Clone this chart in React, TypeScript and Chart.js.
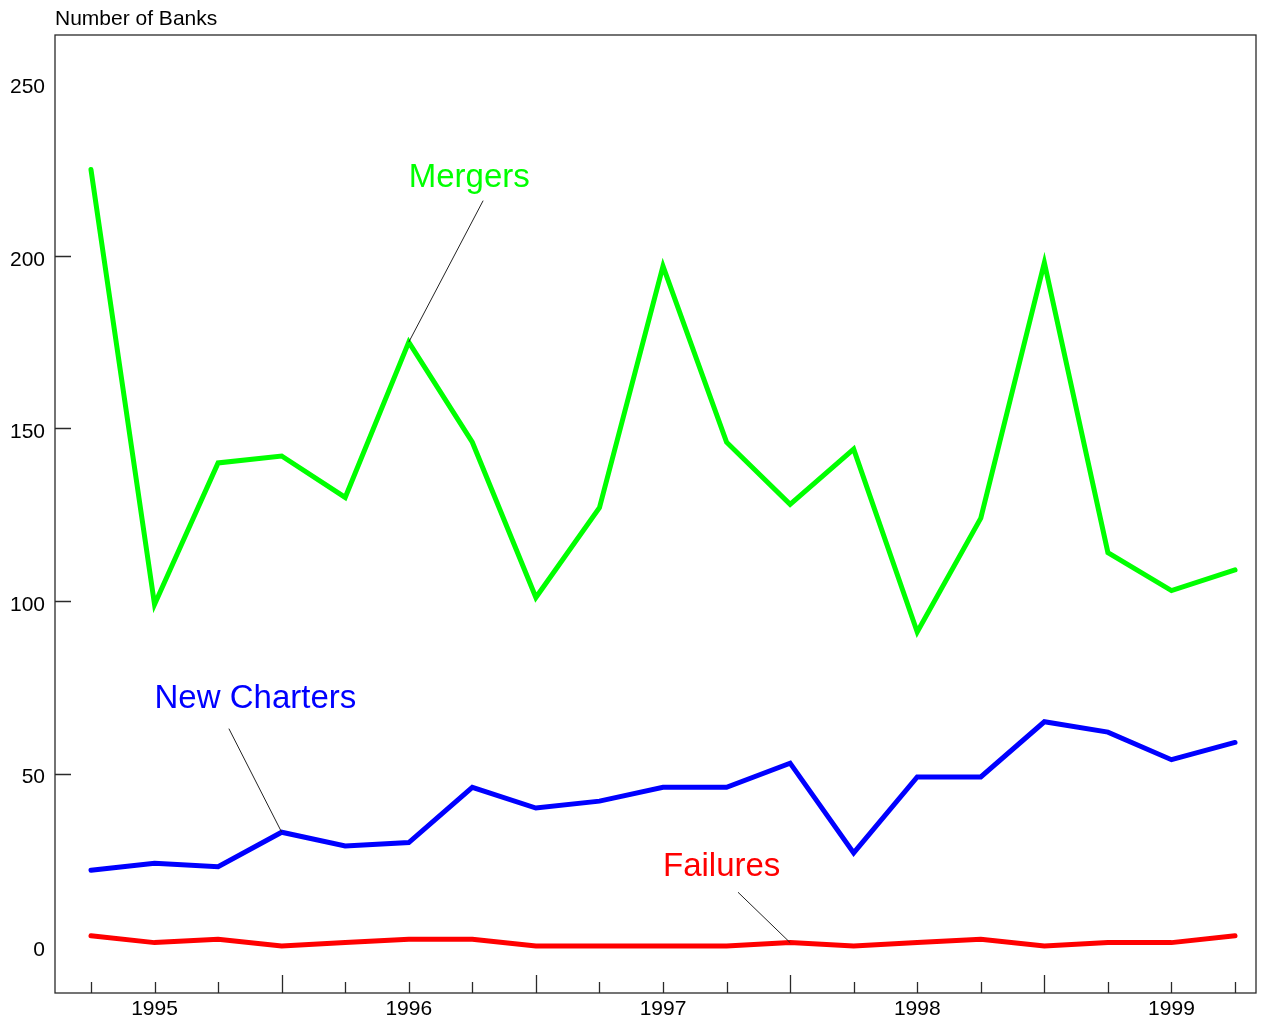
import React, { useEffect, useRef } from "react";
import { Chart, registerables } from "chart.js";

Chart.register(...registerables);

// Quarterly observations, index 0 = 1994 Q4 ... index 18 = 1999 Q2
const quarterIndex = [0, 1, 2, 3, 4, 5, 6, 7, 8, 9, 10, 11, 12, 13, 14, 15, 16, 17, 18];
const mergers = [225, 99, 140, 142, 130, 175, 146, 101, 127, 197, 146, 128, 144, 91, 124, 198, 114, 103, 109];
const newCharters = [22, 24, 23, 33, 29, 30, 46, 40, 42, 46, 46, 53, 27, 49, 49, 65, 62, 54, 59];
const failures = [3, 1, 2, 0, 1, 2, 2, 0, 0, 0, 0, 1, 0, 1, 2, 0, 1, 1, 3];

const yearLabelIndex = [1, 5, 9, 13, 17];
const yearLabels = ["1995", "1996", "1997", "1998", "1999"];
const yearBoundaryIndex = [3, 7, 11, 15];

const yTickValues = [0, 50, 100, 150, 200, 250];
const yInnerTickValues = [50, 100, 150, 200];

const seriesNames = ["Mergers", "New Charters", "Failures"];
const seriesColors = ["#00ff00", "#0000ff", "#ff0000"];

// annotation labels (data coordinates) and leader lines
const annotX = [5, 1, 9];
const annotY = [220, 69, 20.3];
const leaderFromX = [6.17, 2.17, 10.18];
const leaderFromY = [216, 63, 15.6];
const leaderToIndex = [5, 3, 11];

const yTitle = "Number of Banks";
const FONT = "'Liberation Sans', Arial, Helvetica, sans-serif";

export default function App() {
  const ref = useRef<HTMLCanvasElement | null>(null);

  useEffect(() => {
    const canvas = ref.current;
    if (!canvas) return;
    const seriesData = [mergers, newCharters, failures];

    const decor = {
      id: "decor",
      afterDatasetsDraw(chart: any) {
        const ctx = chart.ctx as CanvasRenderingContext2D;
        const xs = chart.scales.x;
        const ys = chart.scales.y;
        const a = chart.chartArea;
        ctx.save();
        // frame
        ctx.strokeStyle = "#2a2a2a";
        ctx.lineWidth = 1.3;
        ctx.strokeRect(a.left, a.top, a.right - a.left, a.bottom - a.top);
        // x ticks (inward)
        ctx.beginPath();
        quarterIndex.forEach((q) => {
          const px = Math.round(xs.getPixelForValue(q)) + 0.5;
          const len = yearBoundaryIndex.includes(q) ? 18 : 11;
          ctx.moveTo(px, a.bottom);
          ctx.lineTo(px, a.bottom - len);
        });
        // y ticks (inward)
        yInnerTickValues.forEach((v) => {
          const py = Math.round(ys.getPixelForValue(v)) + 0.5;
          ctx.moveTo(a.left, py);
          ctx.lineTo(a.left + 16, py);
        });
        ctx.stroke();

        // title
        ctx.fillStyle = "#000";
        ctx.font = `21px ${FONT}`;
        ctx.textAlign = "left";
        ctx.textBaseline = "alphabetic";
        ctx.fillText(yTitle, a.left, 25);

        // leader lines
        ctx.strokeStyle = "#222";
        ctx.lineWidth = 1;
        seriesNames.forEach((_, i) => {
          const x0 = xs.getPixelForValue(leaderFromX[i]);
          const y0 = ys.getPixelForValue(leaderFromY[i]);
          const k = leaderToIndex[i];
          const x1 = xs.getPixelForValue(quarterIndex[k]);
          const y1 = ys.getPixelForValue(seriesData[i][k]);
          ctx.beginPath();
          ctx.moveTo(x0, y0);
          ctx.lineTo(x1, y1);
          ctx.stroke();
        });
        // annotation labels
        ctx.font = `33px ${FONT}`;
        seriesNames.forEach((name, i) => {
          ctx.fillStyle = seriesColors[i];
          ctx.fillText(name, xs.getPixelForValue(annotX[i]), ys.getPixelForValue(annotY[i]));
        });
        ctx.restore();
      },
    };

    const chart = new Chart(canvas, {
      type: "line",
      data: {
        datasets: seriesNames.map((name, i) => ({
          label: name,
          data: quarterIndex.map((q, j) => ({ x: q, y: seriesData[i][j] })),
          borderColor: seriesColors[i],
          backgroundColor: seriesColors[i],
          borderWidth: 5,
          pointRadius: 0,
          tension: 0,
          fill: false,
          borderCapStyle: "round",
          borderJoinStyle: "miter",
        })),
      },
      options: {
        responsive: false,
        animation: false,
        layout: { padding: { top: 35, right: 9, left: 0, bottom: 0 } },
        plugins: { legend: { display: false }, title: { display: false }, tooltip: { enabled: false } },
        scales: {
          x: {
            type: "linear",
            min: -0.566,
            max: 18.33,
            grid: { display: false, drawTicks: false },
            border: { display: false },
            afterBuildTicks: (scale: any) => {
              scale.ticks = yearLabelIndex.map((v) => ({ value: v }));
            },
            afterFit: (scale: any) => {
              scale.height = 28;
            },
            ticks: {
              autoSkip: false,
              maxRotation: 0,
              padding: 4,
              color: "#000",
              font: { family: FONT, size: 21 },
              callback: (v: any) => {
                const k = yearLabelIndex.indexOf(Number(v));
                return k >= 0 ? yearLabels[k] : "";
              },
            },
          },
          y: {
            type: "linear",
            min: -13.6,
            max: 264,
            grid: { display: false, drawTicks: false },
            border: { display: false },
            afterBuildTicks: (scale: any) => {
              scale.ticks = yTickValues.map((v) => ({ value: v }));
            },
            afterFit: (scale: any) => {
              scale.width = 55;
            },
            ticks: {
              padding: 10,
              labelOffset: 4,
              color: "#000",
              font: { family: FONT, size: 21 },
              callback: (v: any) => String(v),
            },
          },
        },
      },
      plugins: [decor],
    } as any);
    return () => chart.destroy();
  }, []);

  return (
    <div style={{ position: "absolute", left: 0, top: 0, width: 1265, height: 1021, background: "#fff" }}>
      <canvas ref={ref} width={1265} height={1021} style={{ display: "block" }} />
    </div>
  );
}
